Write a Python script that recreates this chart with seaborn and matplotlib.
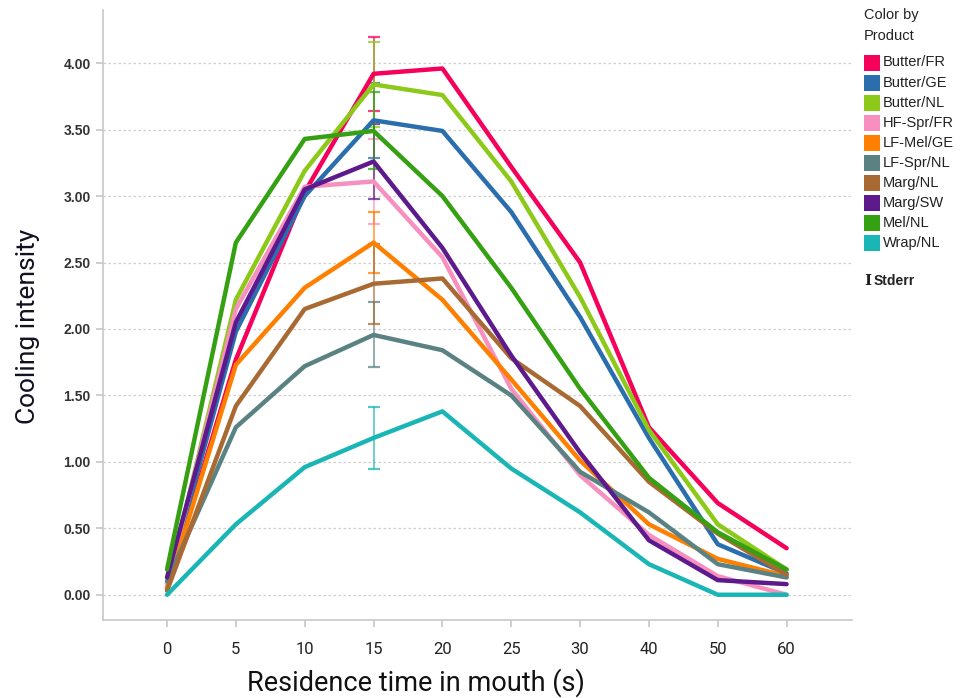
import numpy as np
import pandas as pd
import matplotlib
matplotlib.use("Agg")
import matplotlib.pyplot as plt
from matplotlib.patches import Rectangle
from matplotlib import font_manager
import seaborn as sns

# Sampling times (s) shown as evenly spaced categories
times = [0, 5, 10, 15, 20, 25, 30, 40, 50, 60]

products = ["Butter/FR", "Butter/GE", "Butter/NL", "HF-Spr/FR", "LF-Mel/GE",
            "LF-Spr/NL", "Marg/NL", "Marg/SW", "Mel/NL", "Wrap/NL"]

colors = ["#f5005a", "#2a6ead", "#8cc919", "#f78fbf", "#ff8000",
          "#5a8282", "#a86a32", "#5c1a8c", "#35a012", "#1ab5b5"]

# Mean cooling intensity per product at each time point
butter_fr = [0.05, 1.77, 3.03, 3.92, 3.96, 3.22, 2.50, 1.26, 0.69, 0.35]
butter_ge = [0.08, 1.98, 3.00, 3.57, 3.49, 2.88, 2.09, 1.18, 0.38, 0.16]
butter_nl = [0.06, 2.22, 3.19, 3.84, 3.76, 3.11, 2.24, 1.24, 0.53, 0.19]
hf_spr_fr = [0.08, 2.15, 3.07, 3.11, 2.54, 1.55, 0.90, 0.45, 0.14, 0.00]
lf_mel_ge = [0.04, 1.73, 2.31, 2.65, 2.22, 1.62, 1.01, 0.53, 0.27, 0.14]
lf_spr_nl = [0.10, 1.26, 1.72, 1.955, 1.84, 1.50, 0.925, 0.62, 0.23, 0.13]
marg_nl = [0.03, 1.42, 2.15, 2.34, 2.38, 1.78, 1.42, 0.85, 0.46, 0.15]
marg_sw = [0.13, 2.05, 3.05, 3.26, 2.61, 1.80, 1.07, 0.41, 0.11, 0.08]
mel_nl = [0.19, 2.65, 3.43, 3.49, 3.00, 2.31, 1.55, 0.88, 0.47, 0.19]
wrap_nl = [0.00, 0.53, 0.96, 1.18, 1.38, 0.95, 0.62, 0.23, 0.00, 0.00]

series = [butter_fr, butter_ge, butter_nl, hf_spr_fr, lf_mel_ge,
          lf_spr_nl, marg_nl, marg_sw, mel_nl, wrap_nl]

# Standard error at 15 s
stderr_15 = [0.28, 0.28, 0.32, 0.32, 0.23, 0.245, 0.30, 0.28, 0.29, 0.235]

y_ticks = [0.0, 0.5, 1.0, 1.5, 2.0, 2.5, 3.0, 3.5, 4.0]

rows = []
for name, vals in zip(products, series):
    for i, (t, v) in enumerate(zip(times, vals)):
        rows.append({"pos": i, "time": t, "product": name, "value": v})
df = pd.DataFrame(rows)

sns.set_theme(style="white")
available = {f.name for f in font_manager.fontManager.ttflist}
narrow = "Liberation Sans Narrow" if "Liberation Sans Narrow" in available else "Roboto"
plt.rcParams["font.family"] = ["Liberation Sans", "DejaVu Sans"]

W, H = 962, 698
fig = plt.figure(figsize=(W / 100, H / 100), dpi=100)
ax = fig.add_axes([103 / W, 1 - 620 / H, 749 / W, 610 / H])

palette = dict(zip(products, colors))
sns.lineplot(data=df, x="pos", y="value", hue="product", hue_order=products,
             palette=palette, lw=3.2, legend=False, ax=ax, sort=False)

# Stderr bars at 15 s
i15 = times.index(15)
for name, vals, err, c in zip(products, series, stderr_15, colors):
    ax.errorbar(i15, vals[i15], yerr=err, color=c, lw=1.2, capsize=4,
                capthick=1.6, alpha=0.75, zorder=1)

ax.set_xlim(-0.93, 9.95)
ax.set_ylim(-0.19, 4.40)
ax.set_yticks(y_ticks)
ax.set_yticklabels([f"{v:.2f}" for v in y_ticks])
ax.set_xticks(range(len(times)))
ax.set_xticklabels([str(t) for t in times])

ax.grid(axis="y", color="#cfcfcf", lw=0.9, ls=(0, (2, 2)))
ax.grid(axis="x", visible=False)
for s in ["top", "right"]:
    ax.spines[s].set_visible(False)
for s in ["left", "bottom"]:
    ax.spines[s].set_color("#c8c8c8")
    ax.spines[s].set_linewidth(1.2)

ax.tick_params(axis="y", length=5, color="#c8c8c8", pad=4, labelsize=10,
               labelcolor="#333333", left=True)
ax.tick_params(axis="x", length=5, color="#c8c8c8", pad=11, labelsize=12,
               labelcolor="#222222", bottom=True)
for lab in ax.get_yticklabels():
    lab.set_fontweight("bold")
for lab in ax.get_xticklabels():
    lab.set_fontfamily([narrow, "DejaVu Sans"])

ax.set_xlabel("")
ax.set_ylabel("")
fig.text(416 / W, 1 - 683 / H, "Residence time in mouth (s)",
         ha="center", va="center", fontsize=19.5, color="#111111",
         family=[narrow, "DejaVu Sans"])
fig.text(28 / W, 1 - 326 / H, "Cooling intensity", rotation=90,
         ha="center", va="center", fontsize=19, color="#111122",
         family=["Roboto", "DejaVu Sans"])

# Legend: colour swatches with product names
fig.text(864 / W, 1 - 15 / H, "Color by", fontsize=10.5, ha="left",
         va="center", color="#222222")
fig.text(864 / W, 1 - 36 / H, "Product", fontsize=10.5, ha="left",
         va="center", color="#222222")
for k, (name, c) in enumerate(zip(products, colors)):
    yc = 62.5 + 20.1 * k
    fig.add_artist(Rectangle((864 / W, 1 - (yc + 8) / H), 16 / W, 16 / H,
                             transform=fig.transFigure, facecolor=c,
                             edgecolor="none"))
    fig.text(883 / W, 1 - yc / H, name, fontsize=10.5, ha="left",
             va="center", color="#222222")

fig.text(864 / W, 1 - 281 / H, "I", fontsize=11, fontweight="bold",
         family=["DejaVu Serif"], ha="left", va="center", color="#222222")
fig.text(874 / W, 1 - 281 / H, "Stderr", fontsize=10, ha="left",
         va="center", color="#222222", fontweight="bold")

fig.savefig("out.png", dpi=100)
